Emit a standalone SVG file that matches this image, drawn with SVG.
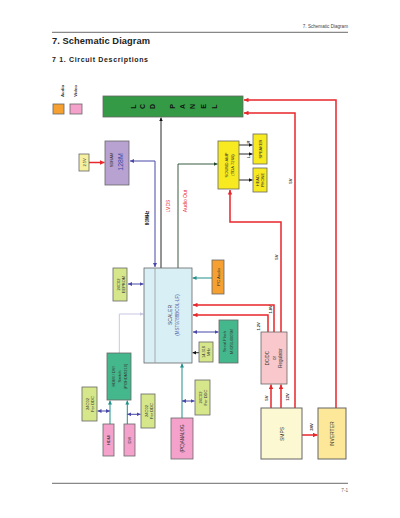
<svg xmlns="http://www.w3.org/2000/svg" width="400" height="518" viewBox="0 0 400 518" fill="#333">
<style>
text{font-family:"Liberation Sans",Arial,sans-serif}
.r{text-anchor:middle;dominant-baseline:central}
.b{font-weight:bold}
.box{stroke:#666;stroke-width:0.8}
.red{fill:none;stroke:#e8262b;stroke-width:1.5}
.blu{fill:none;stroke:#4848a8;stroke-width:1}
.blk{fill:none;stroke:#111;stroke-width:0.9}
.tel{fill:none;stroke:#1f8f8a;stroke-width:1}
.grn{fill:none;stroke:#224a2a;stroke-width:0.9}
.lav{fill:none;stroke:#c6c6e2;stroke-width:1}
.yg{fill:#d6e68a}
.pk{fill:#f4a2cc}
.tg{fill:#44b88c}
.yl{fill:#f8ea20}
.rt{fill:#e8262b}
</style>
<defs>
<marker id="aR" viewBox="0 0 6 6" refX="6" refY="3" markerWidth="3" markerHeight="3" orient="auto-start-reverse"><path d="M0,0L6,3L0,6z" fill="#e8262b"/></marker>
<marker id="aB" viewBox="0 0 6 6" refX="6" refY="3" markerWidth="4" markerHeight="4" orient="auto-start-reverse"><path d="M0,0L6,3L0,6z" fill="#4848a8"/></marker>
<marker id="aK" viewBox="0 0 6 6" refX="6" refY="3" markerWidth="4" markerHeight="4" orient="auto-start-reverse"><path d="M0,0L6,3L0,6z" fill="#111"/></marker>
<marker id="aT" viewBox="0 0 6 6" refX="6" refY="3" markerWidth="4" markerHeight="4" orient="auto-start-reverse"><path d="M0,0L6,3L0,6z" fill="#1f8f8a"/></marker>
<marker id="aG" viewBox="0 0 6 6" refX="6" refY="3" markerWidth="4" markerHeight="4" orient="auto-start-reverse"><path d="M0,0L6,3L0,6z" fill="#224a2a"/></marker>
<marker id="aL" viewBox="0 0 6 6" refX="6" refY="3" markerWidth="4" markerHeight="4" orient="auto-start-reverse"><path d="M0,0L6,3L0,6z" fill="#c6c6e2"/></marker>
</defs>

<!-- page header/footer -->
<text x="348" y="27.5" font-size="4.6" text-anchor="end" fill="#444">7. Schematic Diagram</text>
<line x1="52" y1="32.3" x2="348" y2="32.3" stroke="#444" stroke-width="0.8"/>
<text x="52" y="44" font-size="9.3" class="b" textLength="98" fill="#222">7. Schematic Diagram</text>
<text x="52" y="61.5" font-size="7" class="b" textLength="96" fill="#222">7 1. Circuit Descriptions</text>
<line x1="52" y1="483.3" x2="348" y2="483.3" stroke="#444" stroke-width="0.8"/>
<text x="348" y="491.5" font-size="4.6" text-anchor="end" fill="#666">7-1</text>

<!-- legend -->
<g id="legend">
<text class="r b" font-size="4.3" transform="translate(62 91) rotate(-90)">Audio</text>
<rect x="53" y="104" width="11" height="10" fill="#f5a030" class="box"/>
<text class="r b" font-size="4.3" transform="translate(75 91) rotate(-90)">Video</text>
<rect x="70" y="104" width="12" height="10" class="box pk"/>
</g>

<!-- connectors -->
<g id="connectors">
<path class="red" d="M89,162.5H104.5" marker-end="url(#aR)"/>
<path class="blu" d="M130,161H155V267" marker-start="url(#aB)" marker-end="url(#aB)"/>
<path class="blk" d="M161,268V117.5" marker-end="url(#aK)"/>
<path class="grn" d="M178,268V164H217.5" marker-end="url(#aG)"/>
<path class="blk" d="M239,145H252.5" marker-end="url(#aK)"/>
<path class="blk" d="M239,154H252.5" marker-end="url(#aK)"/>
<path class="blk" d="M239,180H252.5" marker-end="url(#aK)"/>
<path class="red" d="M281,332V222H230V190" marker-end="url(#aR)"/>
<path class="red" d="M295,408V113H244" marker-end="url(#aR)"/>
<path class="red" d="M336,408V100H244" marker-end="url(#aR)"/>
<path class="red" d="M274,332V305H193" marker-end="url(#aR)"/>
<path class="red" d="M268,332V315H193" marker-end="url(#aR)"/>
<path class="red" d="M271,408V384.5" marker-end="url(#aR)"/>
<path class="red" d="M281,408V384.5" marker-end="url(#aR)"/>
<path class="red" d="M302,435H317.5" marker-end="url(#aR)"/>
<path class="blu" d="M128,284H143.5" marker-start="url(#aB)" marker-end="url(#aB)"/>
<path class="lav" d="M119.3,353V314H143.5" marker-end="url(#aL)"/>
<path class="blu" d="M97.5,411H110" marker-start="url(#aB)" marker-end="url(#aB)"/>
<path class="tel" d="M110,424V400.5" marker-end="url(#aT)"/>
<path class="tel" d="M127.3,424V400.5" marker-end="url(#aT)"/>
<path class="blu" d="M127.3,414.3H140.5" marker-start="url(#aB)" marker-end="url(#aB)"/>
<path class="tel" d="M182,418V363.5" marker-end="url(#aT)"/>
<path class="blu" d="M182,401H194.5" marker-start="url(#aB)" marker-end="url(#aB)"/>
<path class="tel" d="M212,278H192.5" marker-end="url(#aT)"/>
<path class="blu" d="M193,332H218.5" marker-start="url(#aB)" marker-end="url(#aB)"/>
<path class="blk" d="M199,352.7H192.5" marker-end="url(#aK)"/>
<text class="r b" font-size="4.5" fill="#111" transform="translate(147 218) rotate(-90)">80MHz</text>
<text class="r rt" font-size="5" transform="translate(168 206) rotate(-90)">LVDS</text>
<text class="r rt" font-size="5" transform="translate(185 201) rotate(-90)">Audio Out</text>
<text class="r b" font-size="4" transform="translate(248 142) rotate(-90)">R</text>
<text class="r b" font-size="4" transform="translate(248 157) rotate(-90)">L</text>
<text class="r b" font-size="4.3" transform="translate(276 257) rotate(-90)">5V</text>
<text class="r b" font-size="4.3" transform="translate(290 181) rotate(-90)">5V</text>
<text class="r b" font-size="4" transform="translate(270 309.5) rotate(-90)">1.8V</text>
<text class="r b" font-size="4" transform="translate(258.5 326.5) rotate(-90)">1.2V</text>
<text class="r b" font-size="4.3" transform="translate(266 398) rotate(-90)">5V</text>
<text class="r b" font-size="4.3" transform="translate(287 397) rotate(-90)">12V</text>
<text class="r b" font-size="4.3" transform="translate(311 427) rotate(-90)">24V</text>
</g>

<g id="lcd">
<rect x="103" y="96" width="140" height="21" fill="#349a46" class="box"/>
<g font-size="7" class="b" fill="#111">
<text class="r" transform="translate(133 106.5) rotate(-90)">L</text>
<text class="r" transform="translate(142.5 106.5) rotate(-90)">C</text>
<text class="r" transform="translate(152 106.5) rotate(-90)">D</text>
<text class="r" transform="translate(172.5 106.5) rotate(-90)">P</text>
<text class="r" transform="translate(182.5 106.5) rotate(-90)">A</text>
<text class="r" transform="translate(192.5 106.5) rotate(-90)">N</text>
<text class="r" transform="translate(203 106.5) rotate(-90)">E</text>
<text class="r" transform="translate(214.5 106.5) rotate(-90)">L</text>
</g>
</g>

<g id="sdram">
<rect x="105" y="141" width="24" height="44" fill="#b8a2d2" class="box"/>
<text class="r" font-size="4" transform="translate(111 160) rotate(-90)">SDRAM</text>
<text class="r" font-size="7" fill="#3848a8" transform="translate(120 162) rotate(-90)">128M</text>
</g>
<g id="v25">
<rect x="79" y="154" width="10" height="17" fill="#f6f0a0" class="box"/>
<text class="r" font-size="4" transform="translate(84 162.5) rotate(-90)">2.5V</text>
</g>

<g id="soundamp">
<rect x="218" y="141" width="21" height="48" class="box yl"/>
<text class="r" font-size="4.2" transform="translate(226 165) rotate(-90)">SOUND AMP</text>
<text class="r" font-size="4.2" transform="translate(232 165) rotate(-90)">(TDA 7266)</text>
</g>
<g id="speaker">
<rect x="253" y="134" width="14" height="30" class="box yl"/>
<text class="r" font-size="4" transform="translate(260 149) rotate(-90)">SPEAKER</text>
</g>
<g id="headphone">
<rect x="253" y="168" width="14" height="24" class="box yl"/>
<text class="r" font-size="4" transform="translate(257.5 180) rotate(-90)">HEAD-</text>
<text class="r" font-size="4" transform="translate(262.5 180) rotate(-90)">PHONE</text>
</g>

<g id="scaler">
<rect x="144" y="268" width="48" height="95" fill="#d8eff6" class="box"/>
<line x1="155" y1="268" x2="155" y2="363" stroke="#999" stroke-width="0.8"/>
<text class="r" font-size="5" fill="#445" transform="translate(170 315) rotate(-90)">SCALER</text>
<text class="r" font-size="4.5" fill="#5566aa" transform="translate(177 315) rotate(-90)">(MST9788BCOL-LF)</text>
</g>

<g id="eeprom">
<rect x="113" y="268" width="14" height="33" class="box yg"/>
<text class="r" font-size="4" transform="translate(118 284.5) rotate(-90)">24C02</text>
<text class="r" font-size="4" transform="translate(123 284.5) rotate(-90)">EEPROM</text>
</g>

<g id="switch">
<rect x="107" y="353" width="24" height="47" class="box tg"/>
<text class="r" font-size="4" transform="translate(113 376.5) rotate(-90)">HDMI / DVI</text>
<text class="r" font-size="4" transform="translate(119 376.5) rotate(-90)">Switch</text>
<text class="r" font-size="4" transform="translate(125 376.5) rotate(-90)">(PI3HDMI210)</text>
</g>
<g id="ddc1">
<rect x="82" y="387" width="15" height="34" class="box yg"/>
<text class="r" font-size="4" transform="translate(87 404) rotate(-90)">24C02</text>
<text class="r" font-size="4" transform="translate(92.5 404) rotate(-90)">For DDC</text>
</g>
<g id="hdmi">
<rect x="103" y="424" width="11" height="32" class="box pk"/>
<text class="r" font-size="4.2" transform="translate(108.5 440) rotate(-90)">HDMI</text>
</g>
<g id="dvi">
<rect x="124" y="424" width="11" height="32" class="box pk"/>
<text class="r" font-size="4.2" transform="translate(129.5 440) rotate(-90)">DVI</text>
</g>
<g id="ddc2">
<rect x="141" y="394" width="14" height="34" class="box yg"/>
<text class="r" font-size="4" transform="translate(146 411) rotate(-90)">24C02</text>
<text class="r" font-size="4" transform="translate(151 411) rotate(-90)">For DDC</text>
</g>
<g id="pcanalog">
<rect x="171" y="418" width="22" height="41" class="box pk"/>
<text class="r" font-size="4.5" transform="translate(182 438.5) rotate(-90)">(PC)ANALOG</text>
</g>
<g id="ddc3">
<rect x="195" y="380" width="15" height="35" class="box yg"/>
<text class="r" font-size="4" transform="translate(200 397.5) rotate(-90)">24C02</text>
<text class="r" font-size="4" transform="translate(205.5 397.5) rotate(-90)">For DDC</text>
</g>

<g id="pcaudio">
<rect x="212" y="260" width="12" height="34" fill="#f5a030" class="box"/>
<text class="r" font-size="4.3" transform="translate(218 277) rotate(-90)">PC Audio</text>
</g>
<g id="flash">
<rect x="219" y="320" width="19" height="43" class="box tg"/>
<text class="r" font-size="4" transform="translate(224 341.5) rotate(-90)">Serial Flash</text>
<text class="r" font-size="4" transform="translate(231 341.5) rotate(-90)">MX25L4005M</text>
</g>
<g id="xtal">
<rect x="199" y="342" width="14" height="20" class="box yg"/>
<text class="r" font-size="3.8" transform="translate(204 352) rotate(-90)">14.318</text>
<text class="r" font-size="3.8" transform="translate(209 352) rotate(-90)">MHz</text>
</g>

<g id="dcdc">
<rect x="261" y="332" width="26" height="52" fill="#f8c8cc" class="box"/>
<text class="r" font-size="4.5" transform="translate(267.5 358) rotate(-90)">DC/DC</text>
<text class="r" font-size="4.5" transform="translate(274 358) rotate(-90)">or</text>
<text class="r" font-size="4.5" transform="translate(280.5 358) rotate(-90)">Regulator</text>
</g>
<g id="smps">
<rect x="261" y="408" width="41" height="51" fill="#fcf8d2" stroke="#666" stroke-width="1"/>
<text class="r" font-size="5" transform="translate(281.5 434) rotate(-90)">SMPS</text>
</g>
<g id="inverter">
<rect x="318" y="408" width="28" height="51" fill="#fce898" stroke="#666" stroke-width="1"/>
<text class="r" font-size="5" transform="translate(332 434) rotate(-90)">INVERTER</text>
</g>
</svg>
